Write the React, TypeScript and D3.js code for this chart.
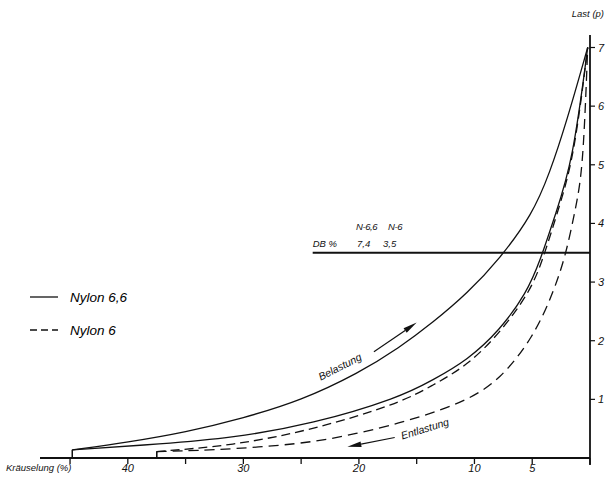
import React, { useEffect, useRef } from "react";
import * as d3 from "d3";

// crimp (%) / load (p) pairs
const nylon66Load: [number, number][] = [
  [44.8, 0.14], [40, 0.27], [35, 0.44], [30, 0.68], [25, 0.98], [20, 1.45],
  [16.5, 1.88], [13.6, 2.31], [10.6, 2.81], [7.8, 3.4], [5, 4.15], [3.5, 4.85],
  [2, 5.75], [0.2, 7.0],
];
const nylon66Unload: [number, number][] = [
  [44.8, 0.14], [37, 0.24], [31, 0.34], [24, 0.58], [16.5, 1.03], [13.6, 1.33],
  [10.6, 1.67], [7.8, 2.18], [5.5, 2.81], [4.3, 3.37], [3, 4.15], [1.5, 5.05],
  [0.2, 7.0],
];
const nylon6Load: [number, number][] = [
  [37.5, 0.11], [31, 0.21], [24, 0.48], [16.5, 0.93], [13.6, 1.24], [10.6, 1.58],
  [7.8, 2.13], [5.2, 2.83], [4.1, 3.37], [2.8, 4.2], [1.4, 5.1], [0.2, 7.0],
];
const nylon6Unload: [number, number][] = [
  [37.5, 0.11], [33, 0.13], [25, 0.23], [20, 0.42], [16.45, 0.6], [13.6, 0.77],
  [10.6, 0.99], [7.8, 1.33], [4.9, 2.06], [3.2, 2.81], [2.1, 3.45], [1.2, 4.3],
  [0.6, 4.95], [0.2, 7.0],
];

const xTicks = [45, 40, 35, 30, 25, 20, 15, 10, 5, 0];
const xLabels = [40, 30, 20, 10, 5];
const yTicks = [1, 2, 3, 4, 5, 6, 7];
const dbLevel = 3.5;
const dbHeaders = ["N-6,6", "N-6"];
const dbValues = ["7,4", "3,5"];

const W = 608, H = 478;
const FONT = "'Liberation Sans', Arial, sans-serif";

export default function App() {
  const ref = useRef<SVGSVGElement>(null);

  useEffect(() => {
    const svg = d3.select(ref.current);
    svg.selectAll("*").remove();

    const x = d3.scaleLinear().domain([0, 47.6]).range([590, 40]);
    const y = d3.scaleLinear().domain([0, 7]).range([458, 47.5]);

    const line = d3.line<[number, number]>()
      .x(d => x(d[0])).y(d => y(d[1]))
      .curve(d3.curveBasis);

    const g = svg.append("g").attr("fill", "none").attr("stroke", "#111");

    // x axis
    g.append("line").attr("x1", x(47.6)).attr("x2", x(0))
      .attr("y1", y(0)).attr("y2", y(0)).attr("stroke-width", 1.8);
    g.selectAll(".xt").data(xTicks).join("line")
      .attr("x1", d => x(d)).attr("x2", d => x(d))
      .attr("y1", y(0)).attr("y2", y(0) + 6).attr("stroke-width", 1.3);

    // right y axis
    g.append("line").attr("x1", x(0)).attr("x2", x(0))
      .attr("y1", 35).attr("y2", y(0) + 7).attr("stroke-width", 1.8);
    g.selectAll(".yt").data(yTicks).join("line")
      .attr("x1", x(0)).attr("x2", x(0) + 5)
      .attr("y1", d => y(d)).attr("y2", d => y(d)).attr("stroke-width", 1.2);

    // DB line
    g.append("line").attr("x1", x(24)).attr("x2", x(0))
      .attr("y1", y(dbLevel)).attr("y2", y(dbLevel)).attr("stroke-width", 2);

    // curves
    const curves = [
      { d: nylon66Load, dash: null },
      { d: nylon66Unload, dash: null },
      { d: nylon6Load, dash: "9,5" },
      { d: nylon6Unload, dash: "10,6" },
    ];
    curves.forEach(c => {
      g.append("path").attr("d", line(c.d))
        .attr("stroke-width", 1.3)
        .attr("stroke-dasharray", c.dash);
      // small step from the axis up to the start of the curve
      g.append("line")
        .attr("x1", x(c.d[0][0])).attr("x2", x(c.d[0][0]))
        .attr("y1", y(0)).attr("y2", y(c.d[0][1]))
        .attr("stroke-width", 1.3);
    });

    // arrows
    const arrow = (from: [number, number], to: [number, number]) => {
      const x1 = x(from[0]), y1 = y(from[1]), x2 = x(to[0]), y2 = y(to[1]);
      const a = Math.atan2(y2 - y1, x2 - x1);
      const len = 14, hw = 2.8;
      const bx = x2 - len * Math.cos(a), by = y2 - len * Math.sin(a);
      g.append("line").attr("x1", x1).attr("y1", y1).attr("x2", bx).attr("y2", by)
        .attr("stroke-width", 1.2);
      g.append("path")
        .attr("d", `M${x2},${y2}L${bx + hw * Math.sin(a)},${by - hw * Math.cos(a)}L${bx - hw * Math.sin(a)},${by + hw * Math.cos(a)}Z`)
        .attr("fill", "#111").attr("stroke", "none");
    };
    arrow([18.7, 1.81], [15.0, 2.31]);
    arrow([16.9, 0.35], [21.0, 0.19]);

    const t = svg.append("g").attr("fill", "#111").attr("font-family", FONT)
      .attr("font-style", "italic");

    t.selectAll(".xl").data(xLabels).join("text")
      .attr("x", d => x(d)).attr("y", 472).attr("text-anchor", "middle")
      .attr("font-size", 11).text(d => d);
    t.selectAll(".yl").data(yTicks).join("text")
      .attr("x", x(0) + 8).attr("y", d => y(d) + 4)
      .attr("font-size", 11).text(d => d);

    t.append("text").attr("x", 6).attr("y", 471).attr("font-size", 9.5)
      .text("Kräuselung (%)");
    t.append("text").attr("x", 604).attr("y", 17).attr("text-anchor", "end")
      .attr("font-size", 9.5).text("Last (p)");

    // DB annotation
    t.append("text").attr("x", x(24)).attr("y", y(dbLevel) - 6)
      .attr("font-size", 9.5).text("DB %");
    dbHeaders.forEach((h, i) => {
      t.append("text").attr("x", [356, 388][i]).attr("y", y(dbLevel) - 23)
        .attr("font-size", 9.5).attr("letter-spacing", -0.4).text(h);
    });
    dbValues.forEach((v, i) => {
      t.append("text").attr("x", [357, 383][i]).attr("y", y(dbLevel) - 6)
        .attr("font-size", 9.5).text(v);
    });

    // labels along curves
    t.append("text").attr("font-size", 10.5).attr("text-anchor", "middle")
      .attr("transform", `translate(${x(21.5)},${y(1.5)}) rotate(-27)`)
      .text("Belastung");
    t.append("text").attr("font-size", 10.5).attr("text-anchor", "middle")
      .attr("transform", `translate(${x(14.2)},${y(0.44)}) rotate(-17)`)
      .text("Entlastung");

    // legend
    const lg = svg.append("g").attr("transform", "translate(30,297)");
    lg.append("line").attr("x1", 0).attr("x2", 28).attr("y1", 0).attr("y2", 0)
      .attr("stroke", "#111").attr("stroke-width", 1.3);
    lg.append("line").attr("x1", 0).attr("x2", 28).attr("y1", 33).attr("y2", 33)
      .attr("stroke", "#111").attr("stroke-width", 1.3).attr("stroke-dasharray", "7,4");
    lg.append("text").attr("x", 40).attr("y", 5).attr("font-family", FONT)
      .attr("font-style", "italic").attr("font-size", 13.5).text("Nylon 6,6");
    lg.append("text").attr("x", 40).attr("y", 38).attr("font-family", FONT)
      .attr("font-style", "italic").attr("font-size", 13.5).text("Nylon 6");
  }, []);

  return (
    <svg ref={ref} width={W} height={H}
      style={{ position: "absolute", left: 0, top: 0, background: "#fff" }} />
  );
}
